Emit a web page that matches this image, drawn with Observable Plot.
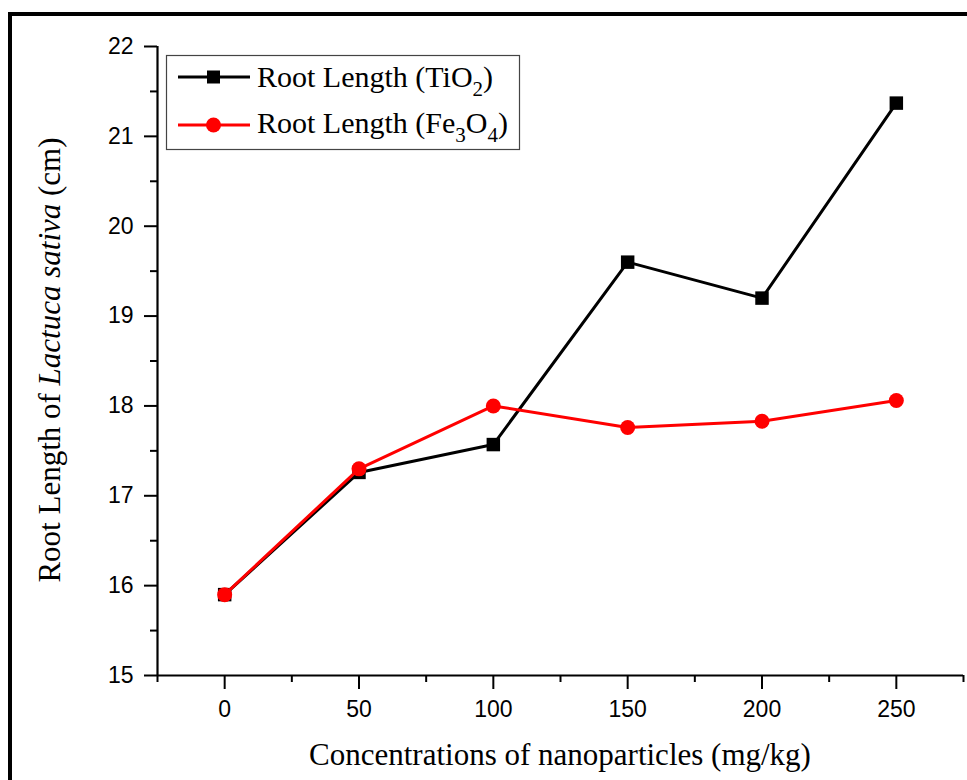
<!DOCTYPE html>
<html>
<head>
<meta charset="utf-8">
<script src="https://cdn.jsdelivr.net/npm/d3@7"></script>
<script src="https://cdn.jsdelivr.net/npm/@observablehq/plot@0.6"></script>
<style>
  html, body { margin: 0; padding: 0; background: #fff; }
  #wrap { position: relative; width: 967px; height: 780px; overflow: hidden; background: #fff; }
  #frame { position: absolute; left: 8px; top: 12px; width: 980px; height: 800px;
           border-top: 4px solid #000; border-left: 4px solid #000; box-sizing: border-box; pointer-events: none; }
  #chart { position: absolute; left: 0; top: 0; }
</style>
</head>
<body>
<div id="wrap">
  <div id="chart"></div>
  <div id="frame"></div>
</div>
<script>
// ---- data ----
const concentrations = [0, 50, 100, 150, 200, 250];
const rootTiO2 = [15.9, 17.26, 17.57, 19.6, 19.2, 21.37];
const rootFe3O4 = [15.9, 17.3, 18.0, 17.76, 17.83, 18.06];
const xMajorTicks = [0, 50, 100, 150, 200, 250];
const xMinorTicks = [-25, 25, 75, 125, 175, 225, 275];
const yMajorTicks = [15, 16, 17, 18, 19, 20, 21, 22];
const yMinorTicks = [15.5, 16.5, 17.5, 18.5, 19.5, 20.5, 21.5];
const xTitle = "Concentrations of nanoparticles (mg/kg)";
const seriesNames = ["Root Length (TiO", "Root Length (Fe"];

const tio2Rows = concentrations.map((c, i) => ({c, v: rootTiO2[i]}));
const fe3o4Rows = concentrations.map((c, i) => ({c, v: rootFe3O4[i]}));

const sans = "'Liberation Sans', Arial, sans-serif";
const serif = "'Liberation Serif', 'Times New Roman', serif";

const plot = Plot.plot({
  width: 967,
  height: 780,
  marginLeft: 157,
  marginRight: 4,
  marginTop: 46,
  marginBottom: 105,
  style: {background: "transparent", fontFamily: sans, color: "#000", overflow: "visible"},
  x: {domain: [-25, 275], axis: null},
  y: {domain: [15, 22], axis: null},
  marks: [
    Plot.ruleY([15], {stroke: "#000", strokeWidth: 2.2}),
    Plot.ruleX([-25], {y1: 15, y2: 22, stroke: "#000", strokeWidth: 2.2}),
    Plot.axisX(xMajorTicks, {anchor: "bottom", tickSize: 14, tickPadding: 11, fontSize: 23, fontFamily: sans, strokeWidth: 2, label: null, tickFormat: d => String(d)}),
    Plot.axisX(xMinorTicks, {anchor: "bottom", tickSize: 7, strokeWidth: 2, label: null, tickFormat: () => ""}),
    Plot.axisY(yMajorTicks, {anchor: "left", tickSize: 13, tickPadding: 11, fontSize: 23, fontFamily: sans, strokeWidth: 2, label: null, tickFormat: d => String(d)}),
    Plot.axisY(yMinorTicks, {anchor: "left", tickSize: 7, strokeWidth: 2, label: null, tickFormat: () => ""}),
    Plot.line(tio2Rows, {x: "c", y: "v", stroke: "#000", strokeWidth: 3}),
    Plot.dot(tio2Rows, {x: "c", y: "v", symbol: "square", r: 7.6, fill: "#000", stroke: "none"}),
    Plot.line(fe3o4Rows, {x: "c", y: "v", stroke: "#ff0000", strokeWidth: 3}),
    Plot.dot(fe3o4Rows, {x: "c", y: "v", symbol: "circle", r: 7.5, fill: "#ff0000", stroke: "none"})
  ]
});
document.getElementById("chart").appendChild(plot);

// ---- titles & legend drawn into the same SVG ----
const svg = d3.select(plot);

svg.append("text")
  .attr("x", 560).attr("y", 765)
  .attr("text-anchor", "middle")
  .style("font-family", serif).style("font-size", "31px").attr("fill", "#000")
  .text(xTitle);

const yt = svg.append("text")
  .attr("transform", "translate(60,360) rotate(-90)")
  .attr("text-anchor", "middle")
  .style("font-family", serif).style("font-size", "31px").attr("fill", "#000");
yt.append("tspan").text("Root Length of ");
yt.append("tspan").style("font-style", "italic").text("Lactuca sativa");
yt.append("tspan").text(" (cm)");

const lg = svg.append("g").attr("text-anchor", "start");
lg.append("rect").attr("x", 166.5).attr("y", 55.5).attr("width", 353).attr("height", 94)
  .attr("fill", "#fff").attr("stroke", "#444").attr("stroke-width", 1.2);

// row 1: TiO2
lg.append("line").attr("x1", 178).attr("x2", 250).attr("y1", 77).attr("y2", 77).attr("stroke", "#000").attr("stroke-width", 3);
lg.append("rect").attr("x", 207).attr("y", 70.5).attr("width", 13).attr("height", 13).attr("fill", "#000");
const t1 = lg.append("text").attr("x", 257).attr("y", 87).attr("text-anchor", "start")
  .style("font-family", serif).style("font-size", "30px").attr("fill", "#000");
t1.append("tspan").text(seriesNames[0]);
t1.append("tspan").attr("dy", 9).style("font-size", "21px").text("2");
t1.append("tspan").attr("dy", -9).text(")");

// row 2: Fe3O4
lg.append("line").attr("x1", 178).attr("x2", 250).attr("y1", 125).attr("y2", 125).attr("stroke", "#ff0000").attr("stroke-width", 3);
lg.append("circle").attr("cx", 213.5).attr("cy", 125).attr("r", 7.5).attr("fill", "#ff0000");
const t2 = lg.append("text").attr("x", 257).attr("y", 133).attr("text-anchor", "start")
  .style("font-family", serif).style("font-size", "30px").attr("fill", "#000");
t2.append("tspan").text(seriesNames[1]);
t2.append("tspan").attr("dy", 9).style("font-size", "21px").text("3");
t2.append("tspan").attr("dy", -9).text("O");
t2.append("tspan").attr("dy", 9).style("font-size", "21px").text("4");
t2.append("tspan").attr("dy", -9).text(")");
</script>
</body>
</html>
